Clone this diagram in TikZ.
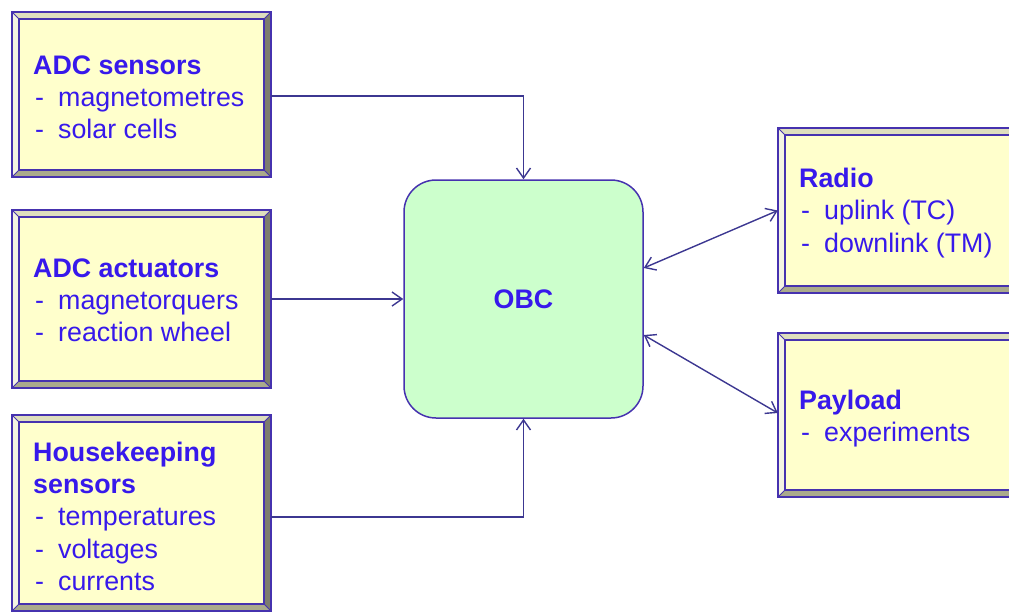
\documentclass[tikz,border=0pt]{standalone}
\usepackage{fontspec}
\setmainfont{Liberation Sans}
\usetikzlibrary{arrows.meta,calc}
\definecolor{panelfill}{RGB}{255,255,204}
\definecolor{obcfill}{RGB}{204,255,204}
\definecolor{framec}{RGB}{70,50,175}
\definecolor{txtc}{RGB}{55,25,235}
\definecolor{connc}{RGB}{60,55,145}
\definecolor{bevtopc}{RGB}{222,222,190}
\definecolor{bevleftc}{RGB}{244,244,226}
\definecolor{bevrightc}{RGB}{125,125,110}
\definecolor{bevbotc}{RGB}{170,170,140}
\tikzset{
  panel/.style={rectangle, inner sep=0pt, fill=panelfill, draw=none},
  frameline/.style={draw=framec, line width=1.6pt, line join=miter},
  obcbox/.style={rectangle, rounded corners=32pt, fill=obcfill, draw=framec, line width=1.5pt, minimum width=239pt, minimum height=238pt, text=txtc, font=\fontsize{26.8}{32}\selectfont\bfseries},
  txt/.style={anchor=base west, inner sep=0pt, text=txtc, font=\fontsize{26.8}{32}\selectfont},
  ttl/.style={txt, font=\fontsize{26.8}{32}\selectfont\bfseries},
  conn/.style={draw=connc, line width=1.4pt},
}
\newcommand\bevbox[5]{%
  \node[panel, minimum width={#4-#2}, minimum height={#5-#3}] (#1) at ({(#2+#4)/2},{(#3+#5)/2}) {};
  \coordinate (#1-a) at ([shift={(7,7)}]#1.north west);
  \coordinate (#1-b) at ([shift={(-7,7)}]#1.north east);
  \coordinate (#1-c) at ([shift={(-7,-7)}]#1.south east);
  \coordinate (#1-d) at ([shift={(7,-7)}]#1.south west);
  \fill[bevtopc] (#1.north west) -- (#1.north east) -- (#1-b) -- (#1-a) -- cycle;
  \fill[bevrightc] (#1.north east) -- (#1.south east) -- (#1-c) -- (#1-b) -- cycle;
  \fill[bevbotc] (#1.south east) -- (#1.south west) -- (#1-d) -- (#1-c) -- cycle;
  \fill[bevleftc] (#1.south west) -- (#1.north west) -- (#1-a) -- (#1-d) -- cycle;
  \draw[frameline, line width=2pt] (#1.north west) rectangle (#1.south east);
  \draw[frameline] (#1-a) -- (#1-b) -- (#1-c) -- (#1-d) -- cycle;
  \draw[frameline, line width=0.9pt] (#1.north west) -- (#1-a) (#1.north east) -- (#1-b)
     (#1.south east) -- (#1-c) (#1.south west) -- (#1-d);
}
\newcommand\dashitem[4]{\node[txt] (#1) at (#2,#3) {\makebox[23pt][l]{-}#4};}
\begin{document}
\begin{tikzpicture}[x=1pt,y=-1pt]
\useasboundingbox (0,0) rectangle (1009,614);
\clip (0,0) rectangle (1009,614);

\bevbox{s1}{12}{12}{271}{177}
\bevbox{s2}{12}{210}{271}{388}
\bevbox{s3}{12}{415}{271}{611}
\bevbox{radio}{778}{128}{1030}{293}
\bevbox{pay}{778}{333}{1030}{497}

\node[obcbox] (obc) at (523.5,299) {OBC};

\node[ttl] (t1) at (33,74) {ADC sensors};
\dashitem{t1a}{35}{106}{magnetometres}
\dashitem{t1b}{35}{138}{solar cells}

\node[ttl] (t2) at (33,277) {ADC actuators};
\dashitem{t2a}{35}{309}{magnetorquers}
\dashitem{t2b}{35}{341}{reaction wheel}

\node[ttl] (t3) at (33,461) {Housekeeping};
\node[ttl] (t3b) at (33,493) {sensors};
\dashitem{t3c}{35}{525.5}{temperatures}
\dashitem{t3d}{35}{558}{voltages}
\dashitem{t3e}{35}{590}{currents}

\node[ttl] (t4) at (799,187) {Radio};
\dashitem{t4a}{801}{219.5}{uplink (TC)}
\dashitem{t4b}{801}{252}{downlink (TM)}

\node[ttl] (t5) at (799,409) {Payload};
\dashitem{t5a}{801}{441}{experiments}

\draw[conn, -{Straight Barb[length=10pt,width=14pt]}] ([yshift=-1.5pt]s1.east) -| (obc.north);
\draw[conn, -{Straight Barb[length=10pt,width=14pt]}] (s2.east) -- (obc.west);
\draw[conn, -{Straight Barb[length=10pt,width=14pt]}] ([yshift=-4pt]s3.east) -| (obc.south);
\draw[conn, {Straight Barb[length=10pt,width=14pt]}-{Straight Barb[length=10pt,width=14pt]}] ([yshift=31pt]obc.east) -- (radio.west);
\draw[conn, {Straight Barb[length=10pt,width=14pt]}-{Straight Barb[length=10pt,width=14pt]}] ([yshift=-36pt]obc.east) -- ([yshift=2pt]pay.west);
\end{tikzpicture}
\end{document}
